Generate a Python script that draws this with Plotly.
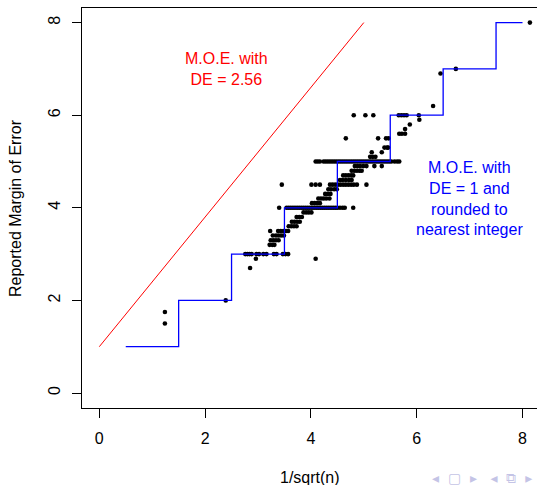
import plotly.graph_objects as go

# ---- data ----
# reported margin of error points, grouped by reported value
pts = {
    1.5: [1.24],
    1.75: [1.24],
    2.0: [2.39],
    2.7: [2.85],
    2.9: [2.96, 4.09],
    3.0: [2.76, 2.80, 2.84, 2.88, 2.97, 3.02, 3.10, 3.16, 3.30, 3.35, 3.47, 3.52, 3.57],
    3.2: [3.22, 3.27, 3.31],
    3.3: [3.24, 3.29, 3.34, 3.39],
    3.4: [3.28, 3.34, 3.39, 3.44, 3.49],
    3.5: [3.23, 3.38, 3.43, 3.48, 3.53, 3.57],
    3.6: [3.58, 3.63, 3.68, 3.73],
    3.7: [3.64, 3.69, 3.74, 3.79],
    3.8: [3.73, 3.78, 3.83],
    3.9: [3.86, 3.91, 3.96, 4.01],
    4.0: [3.40, 3.54, 3.58, 3.62, 3.66, 3.70, 3.74, 3.78, 3.82, 3.86, 3.90, 3.94,
          3.98, 4.02, 4.06, 4.10, 4.14, 4.18, 4.22, 4.26, 4.30, 4.34, 4.38, 4.42,
          4.46, 4.50, 4.55, 4.60, 4.64, 4.80],
    4.1: [4.02, 4.07, 4.12, 4.17],
    4.2: [4.14, 4.19, 4.24, 4.29, 4.35],
    4.3: [4.27, 4.32, 4.37],
    4.4: [4.33, 4.38, 4.44, 4.49],
    4.5: [3.45, 4.01, 4.09, 4.17, 4.36, 4.41, 4.46, 4.51, 4.56, 4.61,
          4.66, 4.71, 4.76, 4.81, 4.87, 5.05],
    4.6: [4.55, 4.60, 4.66, 4.72, 4.77],
    4.7: [4.61, 4.66, 4.71, 4.76, 4.80],
    4.8: [4.77, 4.82, 4.87, 4.92, 4.96],
    4.9: [4.83, 4.88, 4.93, 4.99, 5.05, 5.20, 5.34],
    5.0: [4.09, 4.13, 4.17, 4.24, 4.28, 4.32, 4.36, 4.40, 4.44, 4.48, 4.52, 4.56,
          4.60, 4.64, 4.68, 4.72, 4.76, 4.80, 4.84, 4.88, 4.92, 4.96, 5.00, 5.04,
          5.08, 5.12, 5.16, 5.20, 5.24, 5.28, 5.32, 5.36, 5.40, 5.44, 5.48, 5.52,
          5.58, 5.63, 5.67],
    5.1: [5.12, 5.17, 5.22],
    5.2: [5.15, 5.34],
    5.3: [5.39, 5.44, 5.46],
    5.5: [4.66, 5.27, 5.42, 5.47],
    5.6: [5.67, 5.72, 5.78],
    5.7: [5.78],
    5.8: [5.87],
    5.9: [6.05],
    6.0: [4.81, 5.03, 5.18, 5.66, 5.71, 5.76, 5.81, 6.04],
    6.2: [6.31],
    6.9: [6.45],
    7.0: [6.74],
    8.0: [8.14],
}
moe_x = []
moe_y = []
for yv, xs in pts.items():
    for xv in xs:
        moe_x.append(xv)
        moe_y.append(yv)

# M.O.E. with DE = 2.56 (straight line)
red_x = [0, 5]
red_y = [1, 8]

# M.O.E. with DE = 1, rounded (step function)
step_x = [0.5, 1.5, 2.5, 3.5, 4.5, 5.5, 6.5, 7.5, 8.0]
step_y = [1, 2, 3, 4, 5, 6, 7, 8, 8]

ticks = [0, 2, 4, 6, 8]
FONT = "Liberation Sans, Arial, Helvetica, sans-serif"

fig = go.Figure()
fig.add_trace(go.Scatter(x=moe_x, y=moe_y, mode="markers",
                         marker=dict(color="black", size=4.6, line=dict(width=0)),
                         showlegend=False, hoverinfo="skip"))
fig.add_trace(go.Scatter(x=red_x, y=red_y, mode="lines",
                         line=dict(color="#ff0000", width=1), showlegend=False))
fig.add_trace(go.Scatter(x=step_x, y=step_y, mode="lines", line_shape="hv",
                         line=dict(color="#0000ff", width=1.3), showlegend=False))

fig.add_annotation(x=2.4, y=7.0, text="M.O.E. with<br>DE = 2.56", showarrow=False,
                   font=dict(color="#ff0000", size=16, family=FONT), align="center")
fig.add_annotation(x=7.0, y=4.2, text="M.O.E. with<br>DE = 1 and<br>rounded to<br>nearest integer",
                   showarrow=False, font=dict(color="#0000ff", size=16, family=FONT),
                   align="center")

# axis titles
fig.add_annotation(xref="paper", yref="paper", x=(310 - 82) / 455, y=0, yshift=-69,
                   text="1/sqrt(n)", showarrow=False, yanchor="middle",
                   font=dict(size=16, family=FONT, color="black"))
fig.add_annotation(xref="paper", yref="paper", x=0, y=0.5, xshift=-67,
                   text="Reported Margin of Error", showarrow=False, textangle=-90,
                   xanchor="center", yanchor="middle",
                   font=dict(size=16, family=FONT, color="black"))
# beamer navigation symbols
fig.add_annotation(xref="paper", yref="paper", x=1, y=0, yshift=-70, xshift=-3,
                   xanchor="right", yanchor="middle",
                   text="◂  ▢  ▸   ◂  ⧉  ▸", showarrow=False,
                   font=dict(size=14, family="DejaVu Sans", color="#c4c4e6"))

fig.update_layout(
    width=537, height=485,
    margin=dict(l=82, r=0, t=8, b=77),
    plot_bgcolor="white", paper_bgcolor="white",
    font=dict(family=FONT, size=16, color="black"),
    xaxis=dict(range=[-0.327, 8.274], tickvals=ticks, ticks="outside", ticklen=9,
               tickcolor="black", showline=True, linecolor="black", linewidth=1,
               mirror=True, showgrid=False, zeroline=False, ticklabelstandoff=7,
               tickfont=dict(size=16, family=FONT)),
    yaxis=dict(range=[-0.324, 8.315], tickvals=ticks, ticks="outside", ticklen=9,
               tickcolor="black", showline=True, linecolor="black", linewidth=1,
               mirror=False, showgrid=False, zeroline=False, tickangle=-90,
               ticklabelstandoff=6, tickfont=dict(size=16, family=FONT)),
)

fig.write_html("out.html")
